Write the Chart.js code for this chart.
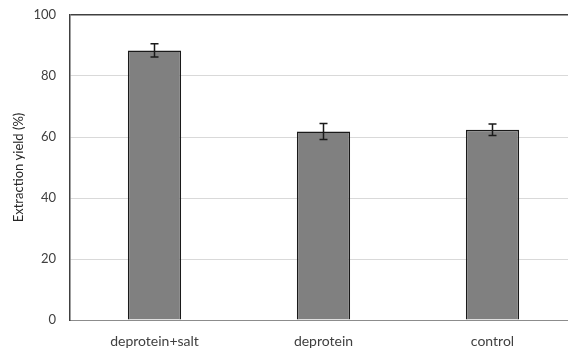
<!DOCTYPE html>
<html>
<head>
<meta charset="utf-8">
<script src="https://cdn.jsdelivr.net/npm/chart.js@4/dist/chart.umd.min.js"></script>
<style>
  html, body { margin: 0; padding: 0; background: #fff; overflow: hidden; }
  #wrap { width: 590px; height: 351px; }
</style>
</head>
<body>
<div id="wrap"><canvas id="chart" width="590" height="351"></canvas></div>
<script>
// data
const categories = ["deprotein+salt", "deprotein", "control"];
const yieldValues = [88.4, 61.8, 62.4];
const yieldErrors = [2.2, 2.6, 1.9];
const yTicks = [0, 20, 40, 60, 80, 100];

// error bars drawn from the y scale
const errorBars = {
    id: "errorBars",
    afterDatasetsDraw(chart) {
        const ctx = chart.ctx;
        const y = chart.scales.y;
        const meta = chart.getDatasetMeta(0);
        ctx.save();
        ctx.strokeStyle = "#1a1a1a";
        ctx.lineWidth = 1.5;
        meta.data.forEach((bar, i) => {
            const top = y.getPixelForValue(yieldValues[i] + yieldErrors[i]);
            const bot = y.getPixelForValue(yieldValues[i] - yieldErrors[i]);
            const cap = 4;
            ctx.beginPath();
            ctx.moveTo(bar.x, top); ctx.lineTo(bar.x, bot);
            ctx.moveTo(bar.x - cap, top); ctx.lineTo(bar.x + cap, top);
            ctx.moveTo(bar.x - cap, bot); ctx.lineTo(bar.x + cap, bot);
            ctx.stroke();
        });
        ctx.restore();
    }
};

new Chart(document.getElementById("chart"), {
    type: "bar",
    data: {
        labels: categories,
        datasets: [{
            data: yieldValues,
            backgroundColor: "#808080",
            borderColor: "#1a1a1a",
            borderWidth: 1.5,
            barPercentage: 0.315,
            categoryPercentage: 1
        }]
    },
    options: {
        responsive: false,
        animation: false,
        layout: { padding: { top: 15, right: 13, left: 0, bottom: 0 } },
        plugins: { legend: { display: false }, tooltip: { enabled: false } },
        scales: {
            x: {
                grid: { display: false },
                border: { color: "#8c8c8c", width: 1 },
                ticks: { color: "#404040", font: { family: "Lato", size: 14 }, padding: 5 },
                afterFit(scale) {
                    scale.height = 31;
                    scale.paddingLeft = 0;
                    scale.paddingRight = 0;
                }
            },
            y: {
                min: 0, max: 100,
                afterBuildTicks(scale) { scale.ticks = yTicks.map(v => ({ value: v })); },
                grid: {
                    drawTicks: false,
                    color: c => c.tick.value === 100 ? "#404040" : (c.tick.value === 0 ? "#8c8c8c" : "#d9d9d9"),
                    lineWidth: c => c.tick.value === 100 ? 1.5 : 1
                },
                border: { color: "#404040", width: 1.5 },
                ticks: { color: "#404040", font: { family: "Lato", size: 13 }, padding: 14 },
                title: {
                    display: true,
                    text: "Extraction yield (%)",
                    color: "#262626",
                    font: { family: "Lato", size: 13 },
                    padding: { top: 11, bottom: 4 }
                },
                afterFit(scale) {
                    scale.width = 70;
                    scale.paddingTop = 0;
                    scale.paddingBottom = 0;
                }
            }
        }
    },
    plugins: [errorBars]
});
</script>
</body>
</html>
